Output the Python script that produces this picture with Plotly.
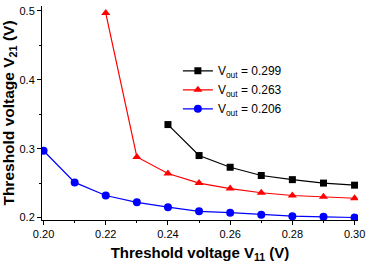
import plotly.graph_objects as go

x_black = [0.24, 0.25, 0.26, 0.27, 0.28, 0.29, 0.30]
y_black = [0.335, 0.290, 0.273, 0.261, 0.255, 0.250, 0.247]
x_red = [0.22, 0.23, 0.24, 0.25, 0.26, 0.27, 0.28, 0.29, 0.30]
y_red = [0.497, 0.288, 0.264, 0.250, 0.242, 0.236, 0.232, 0.230, 0.228]
x_blue = [0.20, 0.21, 0.22, 0.23, 0.24, 0.25, 0.26, 0.27, 0.28, 0.29, 0.30]
y_blue = [0.297, 0.251, 0.232, 0.222, 0.215, 0.209, 0.207, 0.204, 0.202, 0.201, 0.200]
names = ["V<sub>out</sub> = 0.299", "V<sub>out</sub> = 0.263", "V<sub>out</sub> = 0.206"]

fig = go.Figure()
fig.add_trace(go.Scatter(x=x_black, y=y_black, name=names[0], mode="lines+markers",
                         line=dict(color="black", width=1.2),
                         marker=dict(symbol="square", size=7, color="black")))
fig.add_trace(go.Scatter(x=x_red, y=y_red, name=names[1], mode="lines+markers",
                         line=dict(color="red", width=1.2),
                         marker=dict(symbol="triangle-up", size=8, color="red")))
fig.add_trace(go.Scatter(x=x_blue, y=y_blue, name=names[2], mode="lines+markers",
                         line=dict(color="blue", width=1.2),
                         marker=dict(symbol="circle", size=8, color="blue")))

fig.update_layout(
    width=370, height=264,
    margin=dict(l=40, r=8, t=5, b=43),
    paper_bgcolor="white", plot_bgcolor="white",
    font=dict(family="Liberation Sans, Arial", color="black", size=11),
    legend=dict(x=0.43, y=0.765, xanchor="left", yanchor="top",
                bgcolor="rgba(0,0,0,0)", font=dict(size=12),
                tracegroupgap=0, itemwidth=30),
    xaxis=dict(range=[0.1995, 0.3011], tickvals=[0.20, 0.22, 0.24, 0.26, 0.28, 0.30],
               ticktext=["0.20", "0.22", "0.24", "0.26", "0.28", "0.30"],
               showline=True, linecolor="black", linewidth=1, ticks="outside",
               ticklen=4, tickcolor="black", showgrid=False, zeroline=False,
               minor=dict(dtick=0.01, tick0=0.2, ticks="outside", ticklen=2, tickcolor="black"),
               tickfont=dict(size=11),
               title=dict(text="<b>Threshold voltage V<sub>11</sub> (V)</b>", font=dict(size=15), standoff=8)),
    yaxis=dict(range=[0.1964, 0.5072], tickvals=[0.2, 0.3, 0.4, 0.5],
               ticktext=["0.2", "0.3", "0.4", "0.5"],
               showline=True, linecolor="black", linewidth=1, ticks="outside",
               ticklen=4, tickcolor="black", showgrid=False, zeroline=False,
               minor=dict(dtick=0.05, tick0=0.2, ticks="outside", ticklen=2, tickcolor="black"),
               tickfont=dict(size=11),
               title=dict(text="<b>Threshold voltage V<sub>21</sub> (V)</b>", font=dict(size=15.5), standoff=4)),
    showlegend=True,
)

fig.write_html("out.html")
